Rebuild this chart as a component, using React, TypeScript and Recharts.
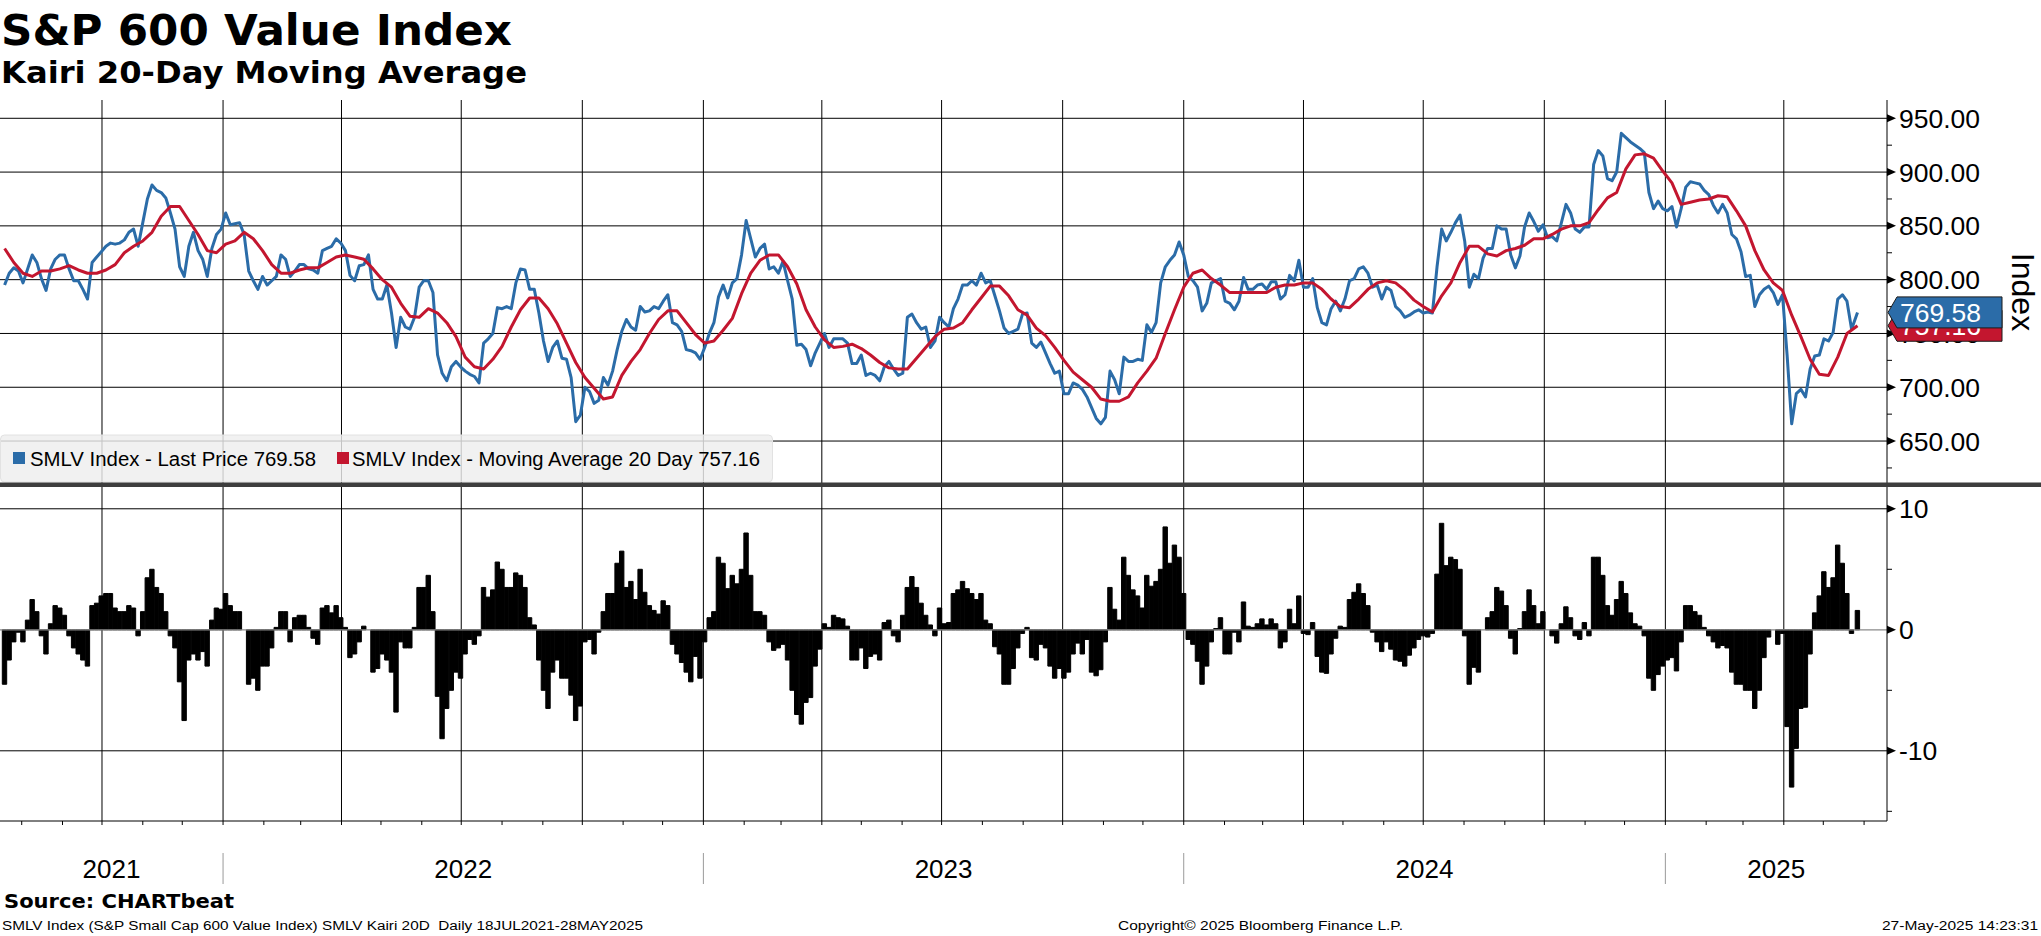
import React from 'react';
import { ComposedChart, BarChart, Line, Bar, XAxis, YAxis, ReferenceLine } from 'recharts';

const W = 2041;
const AXIS_W = 154;
const DAY = 86400000;
const SANS = '"Liberation Sans", Arial, sans-serif';
const BOLD = '"DejaVu Sans", Verdana, sans-serif';
const BLUE = '#2b6ca8';
const RED = '#c3162f';

// readings every half week from Mon 19 Jul 2021, last entry is the 27 May 2025 close
const PRICE = [
  795, 806, 811, 808, 797, 810, 823, 816, 801, 790, 810, 819, 823, 823, 810, 799, 799, 791, 782, 816,
  821, 826, 831, 834, 833, 834, 837, 844, 847, 831, 853, 875, 888, 883, 881, 876, 862, 847, 812, 803,
  831, 844, 827, 819, 803, 829, 842, 847, 862, 851, 852, 853, 842, 808, 799, 791, 803, 795, 799, 803,
  823, 819, 803, 808, 814, 814, 810, 809, 806, 827, 829, 831, 838, 834, 827, 804, 799, 813, 814, 823,
  791, 782, 782, 795, 769, 737, 765, 756, 754, 765, 793, 799, 799, 788, 730, 713, 706, 719, 724, 719,
  715, 712, 710, 704, 741, 745, 750, 774, 773, 775, 773, 797, 810, 809, 791, 791, 769, 743, 724, 737,
  743, 727, 726, 709, 668, 674, 700, 696, 685, 688, 709, 702, 715, 735, 752, 763, 756, 753, 775, 770,
  771, 775, 773, 780, 786, 760, 758, 752, 735, 734, 732, 726, 737, 750, 760, 784, 795, 783, 797, 801,
  823, 855, 838, 821, 829, 833, 810, 812, 806, 817, 799, 782, 739, 740, 735, 720, 732, 741, 750, 737,
  745, 745, 745, 741, 722, 722, 730, 711, 713, 711, 706, 719, 724, 717, 711, 713, 765, 768, 760, 754,
  756, 737, 743, 765, 760, 756, 773, 782, 795, 795, 799, 795, 806, 797, 799, 785, 771, 755, 750, 752,
  754, 768, 769, 741, 737, 742, 732, 722, 713, 715, 694, 694, 704, 702, 698, 691, 681, 671, 666, 672,
  715, 707, 694, 728, 724, 724, 726, 725, 758, 751, 760, 797, 812, 818, 823, 835, 823, 803, 799, 793,
  771, 778, 797, 799, 801, 780, 778, 772, 780, 802, 791, 791, 795, 796, 791, 798, 798, 782, 786, 804,
  799, 818, 793, 793, 801, 774, 760, 758, 773, 780, 771, 782, 799, 801, 810, 812, 806, 793, 795, 782,
  793, 790, 775, 771, 765, 767, 770, 772, 769, 770, 769, 812, 847, 836, 844, 853, 860, 836, 793, 805,
  801, 820, 829, 829, 850, 847, 847, 823, 811, 822, 849, 862, 854, 845, 851, 839, 840, 836, 853, 870,
  862, 847, 844, 849, 849, 907, 920, 915, 894, 892, 900, 936, 932, 928, 925, 922, 918, 881, 866, 873,
  866, 864, 868, 849, 866, 886, 891, 890, 889, 883, 879, 869, 862, 870, 862, 842, 838, 826, 803, 804,
  775, 786, 791, 794, 788, 777, 786, 730, 666, 694, 698, 691, 717, 729, 730, 745, 743, 751, 782, 786,
  780, 754, 769.58,
];

// 20-day moving average, one reading per week (Mondays) plus the 27 May 2025 value
const MA20 = [
  829, 816, 806, 803, 808, 808, 810, 813, 809, 806,
  806, 809, 814, 825, 831, 836, 844, 859, 868, 868,
  855, 842, 827, 825, 833, 836, 844, 838, 827, 814,
  806, 806, 809, 811, 811, 816, 821, 823, 821, 819,
  810, 800, 793, 778, 766, 765, 773, 769, 760, 747,
  728, 719, 717, 726, 738, 756, 772, 783, 783, 773,
  759, 741, 723, 709, 699, 689, 691, 711, 724, 735,
  750, 763, 771, 771, 760, 749, 741, 743, 753, 764,
  787, 806, 818, 823, 823, 812, 796, 772, 756, 744,
  737, 738, 740, 736, 730, 723, 718, 717, 717, 727,
  737, 747, 754, 755, 760, 772, 783, 794, 794, 785,
  772, 767, 755, 748, 737, 725, 714, 707, 700, 689,
  687, 687, 691, 704, 715, 727, 750, 772, 793, 806,
  809, 801, 795, 788, 788, 788, 788, 788, 793, 795,
  795, 797, 797, 791, 782, 775, 774, 782, 791, 797,
  799, 797, 790, 781, 775, 770, 785, 797, 816, 831,
  831, 824, 822, 827, 829, 832, 838, 838, 842, 847,
  850, 850, 853, 865, 876, 881, 903, 916, 917, 913,
  901, 890, 870, 872, 874, 875, 878, 877, 864, 850,
  827, 809, 797, 790, 767, 747, 726, 712, 711, 728,
  750, 757.16,
];

// Kairi 20D (% distance of price from its 20-day average), same half-week dates as PRICE
const KAIRI = [
  -4.5, -2.5, -1.0, -0.2, -1.0, 0.8, 2.5, 1.5, -0.5, -2.0, 0.5, 2.0, 1.8, 1.2, -0.5, -1.5, -2.0, -2.5, -3.0, 2.0,
  2.2, 2.8, 3.0, 3.0, 1.8, 1.5, 1.5, 2.0, 1.8, -0.5, 1.5, 4.3, 5.0, 3.5, 3.0, 1.5, -0.5, -1.5, -4.3, -7.5,
  -2.5, -2.0, -2.5, -1.8, -3.0, 0.8, 1.8, 1.7, 3.0, 2.0, 1.5, 1.5, 0.0, -4.5, -4.0, -5.0, -3.0, -3.0, -1.5, 0.2,
  1.5, 1.5, -1.0, 1.0, 1.2, 1.2, 0.2, -0.7, -1.2, 1.8, 2.0, 1.4, 2.0, 1.0, 0.2, -2.3, -2.0, -1.0, 0.3, 0.0,
  -3.5, -3.2, -2.0, -2.5, -3.5, -6.8, -1.0, -1.5, -1.5, 0.2, 3.5, 3.5, 4.5, 1.5, -5.5, -9.0, -6.5, -5.0, -3.5, -4.0,
  -2.0, -0.8, -1.2, -0.5, 3.5, 2.7, 3.3, 5.6, 5.0, 3.5, 3.5, 4.7, 4.5, 3.5, 1.0, 0.4, -2.5, -5.0, -6.5, -3.5,
  -2.5, -4.0, -4.0, -5.4, -7.5, -6.3, -1.0, -0.8, -2.0, -0.2, 1.5, 3.0, 3.0, 5.5, 6.5, 3.5, 4.0, 2.5, 5.0, 3.1,
  2.0, 1.6, 1.3, 2.4, 2.0, -1.2, -2.0, -2.7, -3.5, -4.3, -2.2, -4.0, -1.0, 1.0, 1.5, 6.0, 5.5, 3.4, 4.5, 3.8,
  5.0, 8.0, 4.5, 1.5, 1.5, 1.2, -1.0, -1.7, -1.5, -1.2, -2.5, -5.0, -7.0, -7.8, -6.0, -5.6, -3.0, -1.6, 0.5, 0.2,
  1.2, 1.0, 0.9, 0.3, -2.5, -2.5, -1.5, -3.2, -2.2, -2.0, -2.5, 0.6, 0.8, -0.5, -1.0, 1.2, 3.5, 4.4, 3.5, 2.2,
  1.2, 0.4, -0.5, 1.8, 0.5, 0.6, 3.0, 3.3, 4.0, 3.4, 3.0, 2.5, 3.0, 0.8, 0.5, -1.4, -2.0, -4.5, -4.5, -3.2,
  -1.5, -0.3, 0.2, -2.3, -2.5, -1.2, -1.5, -3.0, -4.0, -3.2, -4.0, -3.5, -2.0, -1.1, -2.0, -0.8, -3.5, -3.8, -3.3, -1.0,
  3.5, 1.7, 0.8, 6.0, 4.5, 3.3, 2.8, 1.8, 4.5, 3.6, 4.0, 5.0, 8.5, 5.5, 7.0, 6.0, 3.0, -0.8, -1.2, -2.6,
  -4.5, -3.0, -1.0, 0.1, 1.0, -2.0, -2.0, -0.2, -1.0, 2.3, 0.3, 0.2, 0.5, 0.9, 0.4, 0.9, 0.5, -1.5, -1.0, 1.7,
  0.5, 2.8, -0.3, -0.4, 0.6, -2.2, -3.5, -3.6, -2.0, -0.7, 0.3, 0.2, 2.5, 3.1, 3.8, 3.0, 2.0, -0.2, -1.0, -1.8,
  -1.0, -1.6, -2.5, -2.6, -3.0, -2.1, -1.5, -0.8, -0.5, -0.6, -0.3, 4.6, 8.8, 5.3, 6.0, 5.8, 5.0, -0.5, -4.5, -3.1,
  -3.5, 0.0, 1.0, 1.5, 3.5, 3.2, 2.0, -0.7, -2.0, 0.1, 1.5, 3.3, 2.0, 0.5, 1.5, 0.0, -0.5, -1.1, 0.5, 1.9,
  1.0, -0.5, -0.8, 0.6, -0.5, 6.0, 6.0, 4.5, 2.0, 1.2, 2.5, 4.0, 3.0, 1.4, 0.5, 0.3, -0.5, -4.0, -5.0, -3.7,
  -3.0, -2.5, -2.3, -3.4, -1.0, 2.0, 2.0, 1.5, 1.2, 0.2, -0.5, -1.0, -1.5, -1.3, -1.5, -3.5, -4.5, -4.5, -5.0, -5.0,
  -6.5, -5.0, -2.3, -0.6, 0.0, -1.2, -0.3, -8.0, -13.0, -9.8, -6.5, -6.4, -2.0, 1.4, 2.8, 4.8, 3.5, 4.3, 7.0, 5.5,
  3.0, -0.3, 1.6,
];

const LAST_PRICE = 769.58;
const LAST_MA = 757.16;

const FIRST_MONDAY = Date.UTC(2021, 6, 19);
const LAST_SESSION = Date.UTC(2025, 4, 27);
const STEP = 3.5 * DAY;
const DATES = PRICE.map((_, k) => (k === PRICE.length - 1 ? LAST_SESSION : FIRST_MONDAY + k * STEP));

const PRICE_TICKS = [625, 650, 675, 700, 725, 750, 775, 800, 825, 850, 875, 900, 925, 950];
const PRICE_GRID = [650, 700, 750, 800, 850, 900, 950];
const KAIRI_TICKS = [-15, -10, -5, 0, 5, 10];
const YEARS = [2021, 2022, 2023, 2024, 2025];

const X_DOMAIN: [number, number] = [Date.UTC(2021, 6, 15, 12), Date.UTC(2025, 5, 18, 10)];

const MONTHS: number[] = [];
YEARS.forEach((y) => {
  for (let m = 0; m < 12; m++) {
    const t = Date.UTC(y, m, 1);
    if (t > X_DOMAIN[0] && t < X_DOMAIN[1]) MONTHS.push(t);
  }
});
const QUARTERS = MONTHS.filter((t) => new Date(t).getUTCMonth() % 3 === 0);
const YEAR_MIDS = YEARS.map(
  (y) => (Math.max(X_DOMAIN[0], Date.UTC(y, 0, 1)) + Math.min(X_DOMAIN[1], Date.UTC(y + 1, 0, 1))) / 2
);
const X_TICKS = [...MONTHS, ...YEAR_MIDS].sort((a, b) => a - b);

// the last-value tags ride on the price axis, drawn after the regular ticks so they cover them
const PRICE_AXIS_TICKS = [...PRICE_TICKS, LAST_MA, LAST_PRICE];

// the average is read weekly, so it only sits on every second date
const ROWS = DATES.map((t, k) => ({
  t,
  price: PRICE[k],
  ma: k % 2 === 0 ? MA20[k / 2] : null,
  kairi: KAIRI[k],
}));

const PriceTag = ({ x, y, fill, text }: any) => {
  const tip = x + 1;
  const l = tip + 9;
  const r = tip + 114;
  return (
    <g>
      <polygon
        points={`${tip},${y} ${l},${y - 15.5} ${r},${y - 15.5} ${r},${y + 15.5} ${l},${y + 15.5}`}
        fill={fill}
        stroke="#1b1b1b"
        strokeWidth={1}
      />
      <text x={l + 3} y={y + 9.5} fontFamily={SANS} fontSize={26.5} fill="#fff">
        {text}
      </text>
    </g>
  );
};

const RightTick = (props: any) => {
  const { x, y, payload, major, fmt } = props;
  const v = payload.value;
  if (v === LAST_PRICE) return <PriceTag x={x} y={y} fill={BLUE} text={LAST_PRICE.toFixed(2)} />;
  if (v === LAST_MA) return <PriceTag x={x} y={y} fill={RED} text={LAST_MA.toFixed(2)} />;
  if (!major(v)) {
    return <line x1={x} x2={x + 5} y1={y} y2={y} stroke="#000" strokeWidth={1} />;
  }
  return (
    <g>
      <polygon points={`${x},${y - 4} ${x + 9},${y} ${x},${y + 4}`} fill="#000" />
      <text x={x + 12} y={y + 9.5} fontFamily={SANS} fontSize={26.5} fill="#000">
        {fmt(v)}
      </text>
    </g>
  );
};

const BottomTick = (props: any) => {
  const { x, y, payload } = props;
  const v = payload.value;
  const yi = YEAR_MIDS.indexOf(v);
  if (yi >= 0) {
    return (
      <text x={x} y={y + 57} textAnchor="middle" fontFamily={SANS} fontSize={26} fill="#000">
        {String(YEARS[yi])}
      </text>
    );
  }
  const jan = new Date(v).getUTCMonth() === 0;
  return (
    <g>
      <line x1={x} x2={x} y1={y} y2={y + 4} stroke="#000" strokeWidth={1} />
      {jan && <line x1={x} x2={x} y1={y + 32} y2={y + 63} stroke="#9a9a9a" strokeWidth={1} />}
    </g>
  );
};

export default function App() {
  return (
    <div style={{ position: 'absolute', left: 0, top: 0, width: W, height: 936, background: '#fff' }}>
      <div style={{ position: 'absolute', left: 0, top: 100 }}>
        <ComposedChart width={W} height={383} data={ROWS} margin={{ top: 0, right: 0, bottom: 0, left: 0 }}>
          <XAxis dataKey="t" type="number" domain={X_DOMAIN} allowDataOverflow hide />
          <YAxis
            orientation="right"
            width={AXIS_W}
            domain={[611, 967]}
            allowDataOverflow
            ticks={PRICE_AXIS_TICKS}
            interval={0}
            tickLine={false}
            tickSize={0}
            tickMargin={0}
            axisLine={{ stroke: '#000', strokeWidth: 1 }}
            tick={(p: any) => (
              <RightTick {...p} major={(v: number) => v % 50 === 0} fmt={(v: number) => v.toFixed(2)} />
            )}
          />
          {PRICE_GRID.map((v) => (
            <ReferenceLine key={`h${v}`} y={v} stroke="#000" strokeWidth={1} />
          ))}
          {QUARTERS.map((t) => (
            <ReferenceLine key={`q${t}`} x={t} stroke="#000" strokeWidth={1} />
          ))}
          <Line
            dataKey="price"
            type="linear"
            stroke={BLUE}
            strokeWidth={3}
            strokeLinejoin="round"
            dot={false}
            isAnimationActive={false}
          />
          <Line
            dataKey="ma"
            type="linear"
            connectNulls
            stroke={RED}
            strokeWidth={3}
            strokeLinejoin="round"
            dot={false}
            isAnimationActive={false}
          />
        </ComposedChart>
      </div>

      <div style={{ position: 'absolute', left: 0, top: 487 }}>
        <BarChart width={W} height={404} data={ROWS} margin={{ top: 0, right: 0, bottom: 0, left: 0 }}>
          <XAxis
            dataKey="t"
            type="number"
            domain={X_DOMAIN}
            allowDataOverflow
            height={70}
            ticks={X_TICKS}
            interval={0}
            tickLine={false}
            tickSize={0}
            tickMargin={0}
            axisLine={{ stroke: '#000', strokeWidth: 1 }}
            tick={(p: any) => <BottomTick {...p} />}
          />
          <YAxis
            orientation="right"
            width={AXIS_W}
            domain={[-15.8, 11.8]}
            allowDataOverflow
            ticks={KAIRI_TICKS}
            interval={0}
            tickLine={false}
            tickSize={0}
            tickMargin={0}
            axisLine={{ stroke: '#000', strokeWidth: 1 }}
            tick={(p: any) => <RightTick {...p} major={(v: number) => v % 10 === 0} fmt={(v: number) => String(v)} />}
          />
          <ReferenceLine y={10} stroke="#000" strokeWidth={1} />
          <ReferenceLine y={-10} stroke="#000" strokeWidth={1} />
          {QUARTERS.map((t) => (
            <ReferenceLine key={`bq${t}`} x={t} stroke="#000" strokeWidth={1} />
          ))}
          <Bar dataKey="kairi" fill="#000" stroke="#000" strokeWidth={1} barSize={4.4} isAnimationActive={false} />
          <ReferenceLine y={0} stroke="#8a8a8a" strokeWidth={1.2} />
        </BarChart>
      </div>

      <svg width={W} height={936} style={{ position: 'absolute', left: 0, top: 0, pointerEvents: 'none' }}>
        <text x={1} y={45} fontFamily={BOLD} fontWeight="bold" fontSize={43} textLength={511} lengthAdjust="spacingAndGlyphs">
          {'S&P 600 Value Index'}
        </text>
        <text x={1} y={83} fontFamily={BOLD} fontWeight="bold" fontSize={31} textLength={526} lengthAdjust="spacingAndGlyphs">
          Kairi 20-Day Moving Average
        </text>

        <rect x={0.5} y={435} width={772} height={47} rx={4} fill="#eeeeee" fillOpacity={0.82} stroke="#e2e2e2" />
        <rect x={13} y={452} width={12} height={12} fill={BLUE} />
        <text x={30} y={465.5} fontFamily={SANS} fontSize={20} textLength={286} lengthAdjust="spacingAndGlyphs">
          SMLV Index - Last Price 769.58
        </text>
        <rect x={337} y={452} width={12} height={12} fill={RED} />
        <text x={352} y={465.5} fontFamily={SANS} fontSize={20} textLength={408} lengthAdjust="spacingAndGlyphs">
          SMLV Index - Moving Average 20 Day 757.16
        </text>

        <rect x={0} y={482.5} width={W} height={4.5} fill="#3d3d3d" />

        <text
          x={2023}
          y={292}
          transform="rotate(90 2023 292)"
          textAnchor="middle"
          dominantBaseline="central"
          fontFamily={SANS}
          fontSize={32}
        >
          Index
        </text>

        <text x={4} y={908} fontFamily={BOLD} fontWeight="bold" fontSize={19} textLength={230} lengthAdjust="spacingAndGlyphs">
          Source: CHARTbeat
        </text>
        <text
          x={2}
          y={930}
          fontFamily={SANS}
          fontSize={12.5}
          textLength={641}
          lengthAdjust="spacingAndGlyphs"
          style={{ whiteSpace: 'pre' }}
        >
          {'SMLV Index (S&P Small Cap 600 Value Index) SMLV Kairi 20D  Daily 18JUL2021-28MAY2025'}
        </text>
        <text x={1118} y={930} fontFamily={SANS} fontSize={12.5} textLength={285} lengthAdjust="spacingAndGlyphs">
          Copyright© 2025 Bloomberg Finance L.P.
        </text>
        <text x={1882} y={930} fontFamily={SANS} fontSize={12.5} textLength={156} lengthAdjust="spacingAndGlyphs">
          27-May-2025 14:23:31
        </text>
      </svg>
    </div>
  );
}
